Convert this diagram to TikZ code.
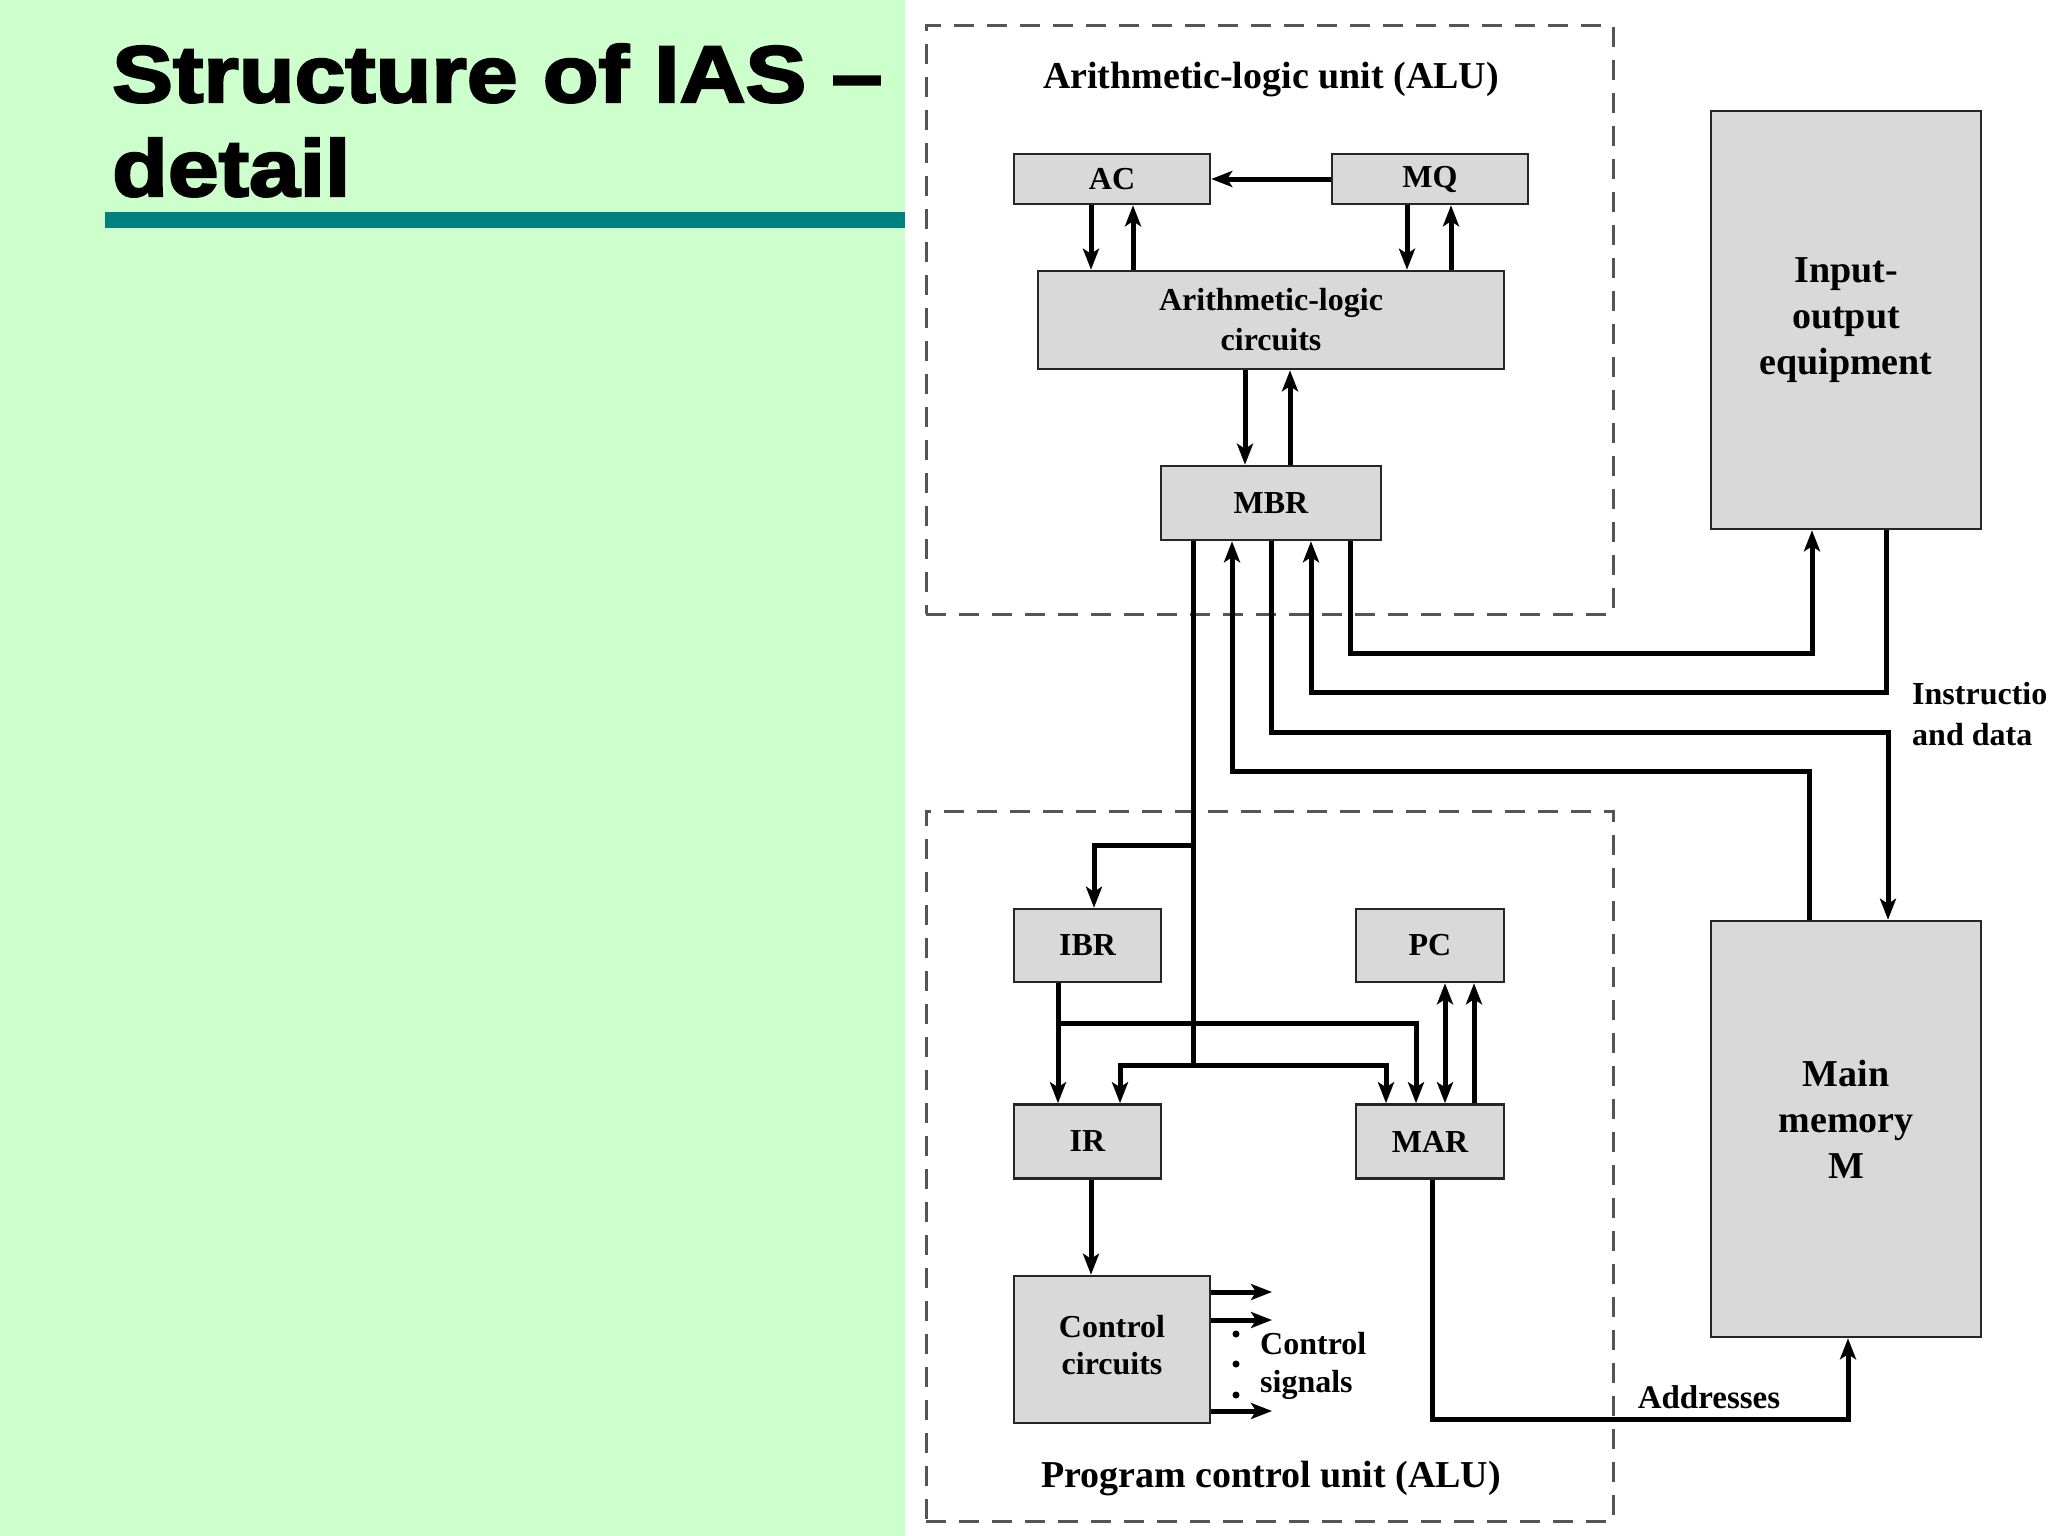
\documentclass[tikz,border=0pt]{standalone}
\usepackage{fontspec}
\setmainfont{Liberation Serif}
\newfontfamily\titlefont[FakeStretch=1.14,FakeBold=3]{Liberation Sans Bold}
\usetikzlibrary{arrows.meta}
\definecolor{bggreen}{HTML}{CCFFCC}
\definecolor{barteal}{HTML}{008080}
\definecolor{boxgray}{HTML}{D9D9D9}
\definecolor{edgegray}{HTML}{262626}
\definecolor{dashgray}{HTML}{555555}
\begin{document}
\begin{tikzpicture}[x=1pt,y=-1pt,
  box/.style={draw=edgegray, line width=2.5pt, fill=boxgray, inner sep=0pt, align=center,
    font=\fontsize{32}{40}\selectfont\bfseries},
  bigbox/.style={box, font=\fontsize{38}{46}\selectfont\bfseries},
  unitbox/.style={draw=dashgray, line width=3pt, dash pattern=on 20pt off 13pt, inner sep=0pt},
  unittitle/.style={font=\fontsize{38}{44}\selectfont\bfseries, inner sep=0pt},
  lbl/.style={font=\fontsize{32}{40}\selectfont\bfseries, inner sep=0pt, align=left},
  wire/.style={line width=5pt},
  arr/.style={wire, -{Stealth[length=21pt,width=16pt,inset=5pt]}},
  darr/.style={wire, {Stealth[length=21pt,width=16pt,inset=5pt]}-{Stealth[length=21pt,width=16pt,inset=5pt]}}
]
% page
\fill[white] (0,0) rectangle (2048,1536);
\useasboundingbox (0,0) rectangle (2048,1536);
\fill[bggreen] (0,0) rectangle (905,1536);

% slide title
\node[anchor=base west, inner sep=0pt, font=\titlefont\fontsize{80}{90}\selectfont] (t1) at (112,102) {Structure of IAS –};
\node[anchor=base west, inner sep=0pt, font=\titlefont\fontsize{80}{90}\selectfont] (t2) at (112,196) {detail};
\fill[barteal] (105,212) rectangle (905,228);

% dashed units
\node[unitbox, minimum width=687pt, minimum height=588pt] (alu) at (1269.5,320) {};
\node[unitbox, minimum width=687pt, minimum height=710pt] (pcu) at (1269.5,1166) {};
\node[unittitle] (alut) at (1271,80) {Arithmetic-logic unit (ALU)};
\node[unittitle] (pcut) at (1271,1478) {Program control unit (ALU)};

% boxes
\node[box, minimum width=196pt, minimum height=50pt] (ac) at (1112,179) {AC};
\node[box, minimum width=196pt, minimum height=50pt] (mq) at (1430,179) {MQ};
\node[box, minimum width=466pt, minimum height=98pt] (alc) at (1271,320) {Arithmetic-logic\\circuits};
\node[box, minimum width=220pt, minimum height=74pt] (mbr) at (1271,503) {MBR};
\node[bigbox, minimum width=270pt, minimum height=418pt] (io) at (1846,320) {Input-\\output\\equipment};
\node[bigbox, minimum width=270pt, minimum height=416pt, text depth=20pt] (mm) at (1846,1129) {Main\\memory\\M};
\node[box, minimum width=147pt, minimum height=73pt] (ibr) at (1087.5,945.5) {IBR};
\node[box, minimum width=148pt, minimum height=73pt] (pc) at (1430,945.5) {PC};
\node[box, minimum width=147pt, minimum height=74pt] (ir) at (1087.5,1141.5) {IR};
\node[box, minimum width=148pt, minimum height=74pt] (mar) at (1430,1141.5) {MAR};
\node[box, minimum width=196pt, minimum height=147pt, text depth=9pt, font=\fontsize{32}{37}\selectfont\bfseries] (cc) at (1112,1349.5) {Control\\circuits};

% column coordinates
\coordinate (xa) at (1091,0);
\coordinate (xb) at (1133,0);
\coordinate (xc) at (1407,0);
\coordinate (xd) at (1451,0);
\coordinate (xe) at (1245,0);
\coordinate (xf) at (1290,0);

% ALU internals
\draw[arr] (mq.west) -- (ac.east);
\draw[arr] (ac.south -| xa) -- (alc.north -| xa);
\draw[arr] (alc.north -| xb) -- (ac.south -| xb);
\draw[arr] (mq.south -| xc) -- (alc.north -| xc);
\draw[arr] (alc.north -| xd) -- (mq.south -| xd);
\draw[arr] (alc.south -| xe) -- (mbr.north -| xe);
\draw[arr] (mbr.north -| xf) -- (alc.south -| xf);

% MBR <-> I/O and memory
\coordinate (p5a) at (1350,653);
\coordinate (p5b) at (1812,653);
\coordinate (p4a) at (1311,692);
\coordinate (p4b) at (1886,692);
\coordinate (p3a) at (1271,732);
\coordinate (p3b) at (1888,732);
\coordinate (p2a) at (1232,771);
\coordinate (p2b) at (1809,771);
\draw[arr] (mbr.south -| p5a) -- (p5a) -- (p5b) -- (io.south -| p5b);
\draw[arr] (io.south -| p4b) -- (p4b) -- (p4a) -- (mbr.south -| p4a);
\draw[arr] (mbr.south -| p3a) -- (p3a) -- (p3b) -- (mm.north -| p3b);
\draw[arr] (mm.north -| p2b) -- (p2b) -- (p2a) -- (mbr.south -| p2a);
\node[lbl, anchor=west, font=\fontsize{32}{41}\selectfont\bfseries] (idl) at (1912,714) {Instructions\\and data};

% MBR bus to program control unit
\coordinate (p1a) at (1193,845);
\coordinate (p1b) at (1094,845);
\coordinate (p1c) at (1193,1065);
\coordinate (p1d) at (1120,1065);
\coordinate (p1e) at (1386,1065);
\draw[wire] (mbr.south -| p1a) -- (p1c);
\draw[arr] (p1a) -- (p1b) -- (ibr.north -| p1b);
\draw[arr] (p1c) -- (p1d) -- (ir.north -| p1d);
\draw[arr] (p1c) -- (p1e) -- (mar.north -| p1e);

% IBR to IR and MAR
\coordinate (q1) at (1058,1023);
\coordinate (q2) at (1416,1023);
\draw[arr] (ibr.south -| q1) -- (ir.north -| q1);
\draw[arr] (q1) -- (q2) -- (mar.north -| q2);

% PC <-> MAR
\coordinate (r1) at (1445,1040);
\coordinate (r2) at (1474,1040);
\draw[darr] (mar.north -| r1) -- (pc.south -| r1);
\draw[arr] (mar.north -| r2) -- (pc.south -| r2);

% IR to control circuits
\coordinate (s1) at (1091,1230);
\draw[arr] (ir.south -| s1) -- (cc.north -| s1);

% control signals
\coordinate (cs1) at (1272,1292);
\coordinate (cs2) at (1272,1320);
\coordinate (cs3) at (1272,1411);
\draw[arr] (cc.east |- cs1) -- (cs1);
\draw[arr] (cc.east |- cs2) -- (cs2);
\draw[arr] (cc.east |- cs3) -- (cs3);
\fill (1236,1334) circle (3.5pt);
\fill (1236,1364) circle (3.5pt);
\fill (1236,1395) circle (3.5pt);
\node[lbl, anchor=west, font=\fontsize{32}{38}\selectfont\bfseries] (csl) at (1260,1366) {Control\\signals};

% addresses
\coordinate (adr1) at (1432,1419);
\coordinate (adr2) at (1848,1419);
\draw[arr] (mar.south -| adr1) -- (adr1) -- (adr2) -- (mm.south -| adr2);
\node[lbl, font=\fontsize{33}{40}\selectfont\bfseries] (adl) at (1709,1397) {Addresses};
\end{tikzpicture}
\end{document}
